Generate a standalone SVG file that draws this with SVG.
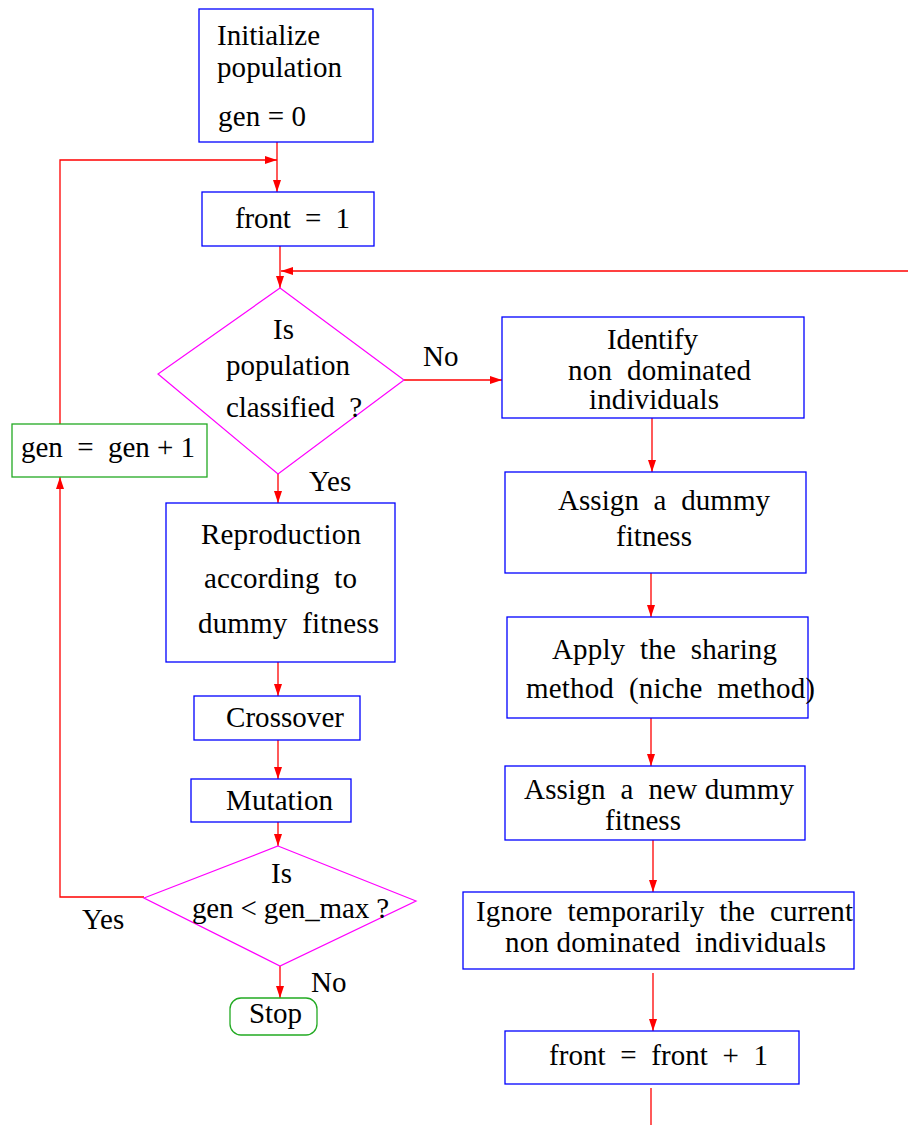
<svg xmlns="http://www.w3.org/2000/svg" width="908" height="1125" viewBox="0 0 908 1125">
<style>
text{font-family:'Liberation Serif','DejaVu Serif',serif;font-size:29px;fill:#000;white-space:pre}
.box{fill:#fff;stroke:#0000ff;stroke-width:1.3}
.dia{fill:#fff;stroke:#ff00ff;stroke-width:1.2}
.grn{fill:#fff;stroke:#22aa22;stroke-width:1.3}
.con{fill:none;stroke:#ff0000;stroke-width:1.3}
</style>
<defs>
<marker id="ah" markerUnits="userSpaceOnUse" markerWidth="12" markerHeight="8" refX="12" refY="4" orient="auto">
<path d="M0,0 L12,4 L0,8 z" fill="#ff0000"/>
</marker>
</defs>
<g id="connectors">
<path class="con" d="M277,142 L277,192" marker-end="url(#ah)"/>
<path class="con" d="M60,424 L60,160 L277,160" marker-end="url(#ah)"/>
<path class="con" d="M280,246 L280,288" marker-end="url(#ah)"/>
<path class="con" d="M908,271 L281,271" marker-end="url(#ah)"/>
<path class="con" d="M404,380 L502,380" marker-end="url(#ah)"/>
<path class="con" d="M278,474 L278,503" marker-end="url(#ah)"/>
<path class="con" d="M278,662 L278,696" marker-end="url(#ah)"/>
<path class="con" d="M278,740 L278,779" marker-end="url(#ah)"/>
<path class="con" d="M278,822 L278,846" marker-end="url(#ah)"/>
<path class="con" d="M280,966 L280,998" marker-end="url(#ah)"/>
<path class="con" d="M144,897 L60,897 L60,477" marker-end="url(#ah)"/>
<path class="con" d="M652,418 L652,472" marker-end="url(#ah)"/>
<path class="con" d="M651,573 L651,617" marker-end="url(#ah)"/>
<path class="con" d="M651,718 L651,766" marker-end="url(#ah)"/>
<path class="con" d="M653,840 L653,892" marker-end="url(#ah)"/>
<path class="con" d="M653,973 L653,1031" marker-end="url(#ah)"/>
<path class="con" d="M651,1088 L651,1125"/>
</g>
<g font-family="Liberation Serif, DejaVu Serif, serif">
<g id="init">
<rect class="box" x="199" y="9" width="174" height="133"/>
<text x="217" y="45" textLength="103">Initialize</text>
<text x="217" y="77" textLength="125">population</text>
<text x="218" y="126" textLength="88">gen = 0</text>
</g>
<g id="front1">
<rect class="box" x="202" y="192" width="172" height="54"/>
<text x="235" y="228" textLength="115">front  =  1</text>
</g>
<g id="classified">
<polygon class="dia" points="280,288 404,380 278,474 158,374"/>
<text x="273" y="339">Is</text>
<text x="226" y="375" textLength="124">population</text>
<text x="226" y="417" textLength="136">classified  ?</text>
</g>
<g id="labels">
<text x="423" y="366">No</text>
<text x="309" y="491">Yes</text>
<text x="82" y="929">Yes</text>
<text x="311" y="992">No</text>
</g>
<g id="genplus">
<rect class="grn" x="12" y="424" width="195" height="53"/>
<text x="21" y="457" textLength="174">gen  =  gen + 1</text>
</g>
<g id="identify">
<rect class="box" x="502" y="317" width="302" height="101"/>
<text x="607" y="349" textLength="91">Identify</text>
<text x="568" y="380" textLength="183">non  dominated</text>
<text x="589" y="409" textLength="130">individuals</text>
</g>
<g id="assign">
<rect class="box" x="505" y="472" width="301" height="101"/>
<text x="558" y="510" textLength="212">Assign  a  dummy</text>
<text x="616" y="546" textLength="76">fitness</text>
</g>
<g id="sharing">
<rect class="box" x="507" y="617" width="301" height="101"/>
<text x="552" y="659" textLength="225">Apply  the  sharing</text>
<text x="526" y="698" textLength="289">method  (niche  method)</text>
</g>
<g id="assignnew">
<rect class="box" x="505" y="766" width="300" height="74"/>
<text x="524" y="799" textLength="270">Assign  a  new dummy</text>
<text x="605" y="830" textLength="76">fitness</text>
</g>
<g id="ignore">
<rect class="box" x="463" y="892" width="391" height="77"/>
<text x="476" y="921" textLength="377">Ignore  temporarily  the  current</text>
<text x="505" y="952" textLength="321">non dominated  individuals</text>
</g>
<g id="frontplus">
<rect class="box" x="505" y="1031" width="294" height="53"/>
<text x="549" y="1065" textLength="219">front  =  front  +  1</text>
</g>
<g id="reproduction">
<rect class="box" x="166" y="503" width="229" height="159"/>
<text x="201" y="544" textLength="160">Reproduction</text>
<text x="204" y="588" textLength="153">according  to</text>
<text x="198" y="633" textLength="181">dummy  fitness</text>
</g>
<g id="crossover">
<rect class="box" x="194" y="696" width="166" height="44"/>
<text x="226" y="727" textLength="118">Crossover</text>
</g>
<g id="mutation">
<rect class="box" x="191" y="779" width="160" height="43"/>
<text x="226" y="810" textLength="107">Mutation</text>
</g>
<g id="genmax">
<polygon class="dia" points="278,846 416,901 280,966 144,898"/>
<text x="271" y="883">Is</text>
<text x="192" y="918" textLength="197">gen &lt; gen_max ?</text>
</g>
<g id="stop">
<rect class="grn" x="230" y="998" width="87" height="37" rx="11" ry="11"/>
<text x="249" y="1023" textLength="53">Stop</text>
</g>
</g>
</svg>
